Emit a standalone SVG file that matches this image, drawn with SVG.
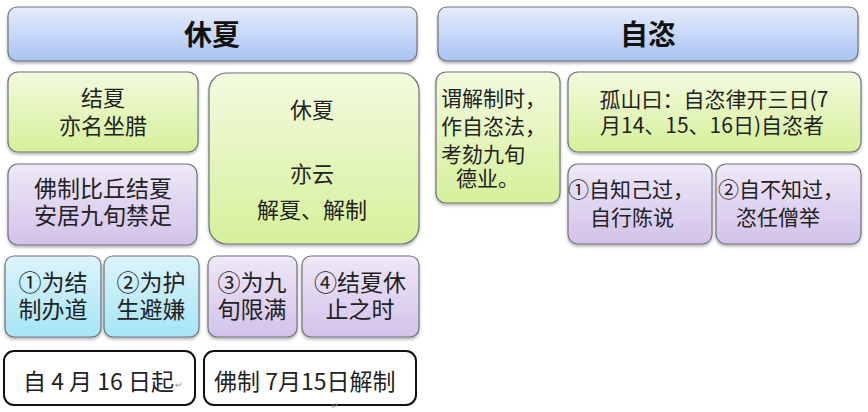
<svg xmlns="http://www.w3.org/2000/svg" width="868" height="412" viewBox="0 0 868 412">
<defs>
<linearGradient id="gBlue" x1="0" y1="0" x2="0" y2="1"><stop offset="0" stop-color="#e6edfc"/><stop offset="1" stop-color="#a9c3f4"/></linearGradient>
<linearGradient id="gGreen" x1="0" y1="0" x2="0" y2="1"><stop offset="0" stop-color="#f3fadf"/><stop offset="1" stop-color="#d6f09a"/></linearGradient>
<linearGradient id="gPurple" x1="0" y1="0" x2="0" y2="1"><stop offset="0" stop-color="#eee8f7"/><stop offset="1" stop-color="#d2c2ea"/></linearGradient>
<linearGradient id="gCyan" x1="0" y1="0" x2="0" y2="1"><stop offset="0" stop-color="#dcf4fb"/><stop offset="1" stop-color="#a6e5f6"/></linearGradient>
<filter id="sh" x="-10%" y="-10%" width="120%" height="130%"><feDropShadow dx="0" dy="2" stdDeviation="1.5" flood-color="#000" flood-opacity="0.3"/></filter>
</defs>
<style>
.box{stroke:#6f7378;stroke-width:1.2;filter:url(#sh)}
.blue{fill:url(#gBlue)} .green{fill:url(#gGreen)} .purple{fill:url(#gPurple)} .cyan{fill:url(#gCyan)}
.plain{fill:#fff;stroke:#111;stroke-width:2}
text{font-family:"Noto Sans CJK SC","Noto Sans",sans-serif;fill:#222;font-size:22px}
.c{text-anchor:middle}
.h{font-size:28px;font-weight:bold;fill:#111}
.mark{font-size:9px;fill:#999}
</style>
<g id="header-xiuxia"><rect class="box blue" x="8" y="7" width="409" height="54" rx="9"/><text class="c h" x="212" y="45">休夏</text></g>
<g id="header-zizi"><rect class="box blue" x="438" y="7" width="420" height="54" rx="9"/><text class="c h" x="648" y="45">自恣</text></g>

<g id="jiexia"><rect class="box green" x="8" y="72" width="190" height="80" rx="10"/><text class="c" x="103" y="106">结夏</text><text class="c" x="103" y="134">亦名坐腊</text></g>
<g id="fozhi"><rect class="box purple" x="8" y="164" width="189" height="81" rx="10"/><text class="c" x="103" y="197" style="font-size:23px">佛制比丘结夏</text><text class="c" x="103" y="224" style="font-size:23px">安居九旬禁足</text></g>
<g id="xiuxia-big"><rect class="box green" x="209" y="73" width="210" height="171" rx="18"/><text class="c" x="312" y="118">休夏</text><text class="c" x="312" y="182">亦云</text><text class="c" x="312" y="218">解夏、解制</text></g>

<g id="r1"><rect class="box cyan" x="5" y="256" width="96" height="81" rx="9"/><text class="c" x="53" y="291" style="font-size:23px">①为结</text><text class="c" x="53" y="318" style="font-size:23px">制办道</text></g>
<g id="r2"><rect class="box cyan" x="104" y="256" width="95" height="81" rx="9"/><text class="c" x="151" y="291" style="font-size:23px">②为护</text><text class="c" x="151" y="318" style="font-size:23px">生避嫌</text></g>
<g id="r3"><rect class="box purple" x="208" y="256" width="89" height="81" rx="9"/><text class="c" x="252" y="291" style="font-size:23px">③为九</text><text class="c" x="252" y="318" style="font-size:23px">旬限满</text></g>
<g id="r4"><rect class="box purple" x="302" y="256" width="117" height="81" rx="9"/><text class="c" x="360" y="291" style="font-size:23px">④结夏休</text><text class="c" x="360" y="318" style="font-size:23px">止之时</text></g>

<g id="start"><rect class="plain" x="4" y="351" width="191" height="54" rx="10"/><text x="23" y="390" style="font-size:23px">自 4 月 16 日起</text><text class="mark" x="175" y="388">↵</text></g>
<g id="end"><rect class="plain" x="204" y="351" width="212" height="54" rx="10"/><text x="214" y="390" style="font-size:23px">佛制 7月15日解制</text></g>
<text class="mark" x="331" y="409">↵</text>

<g id="weijie"><rect class="box green" x="436" y="72" width="124" height="131" rx="10"/><text x="441" y="106" style="font-size:21px">谓解制时，</text><text x="441" y="134" style="font-size:21px">作自恣法，</text><text x="441" y="162" style="font-size:21px">考劾九旬</text><text x="456" y="186" style="font-size:21px">德业。</text></g>
<g id="gushan"><rect class="box green" x="568" y="72" width="293" height="80" rx="10"/><text class="c" x="714" y="107" style="font-size:21px">孤山曰：自恣律开三日(7</text><text class="c" x="712" y="133" style="font-size:21px">月14、15、16日)自恣者</text></g>
<g id="z1"><rect class="box purple" x="568" y="164" width="144" height="80" rx="10"/><text x="568" y="197" style="font-size:21px">①自知己过，</text><text class="c" x="632" y="225" style="font-size:21px">自行陈说</text></g>
<g id="z2"><rect class="box purple" x="716" y="164" width="145" height="80" rx="10"/><text x="718" y="197" style="font-size:21px">②自不知过，</text><text class="c" x="778" y="225" style="font-size:21px">恣任僧举</text></g>
<g id="connectors"/>
</svg>
